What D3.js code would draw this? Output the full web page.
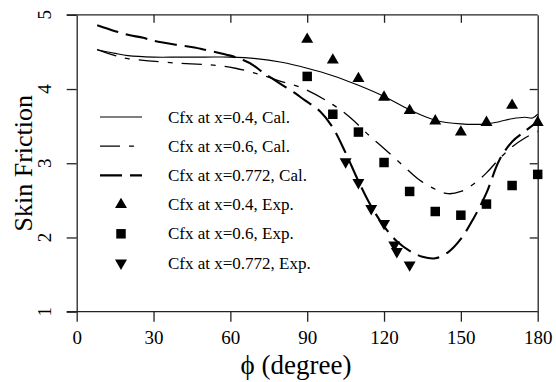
<!DOCTYPE html>
<html><head><meta charset="utf-8">
<script src="https://cdn.jsdelivr.net/npm/d3@7"></script>
<style>body{margin:0;background:#fff}svg{display:block}text{font-family:"Liberation Serif","Times New Roman",serif;fill:#000}</style>
</head><body><svg id="c" width="556" height="382"></svg>
<script>
// ---- data ----
const xTicks = [0, 30, 60, 90, 120, 150, 180];
const yTicks = [1, 2, 3, 4, 5];
const xLabel = "\u03D5 (degree)";
const yLabel = "Skin Friction";

const cal04Phi = [8,15,20,30,40,50,60,70,80,90,100,110,120,130,140,150,160,165,170,175,178,180];
const cal04Val = [4.53,4.48,4.45,4.43,4.43,4.43,4.43,4.41,4.36,4.28,4.18,4.05,3.90,3.72,3.58,3.53,3.53,3.56,3.60,3.62,3.61,3.66];

const cal06Phi = [8,15,20,28,39,50,57,62,68,73,80,89,100,107,114,120,128,134,140,145,150,155,160,165,170,175,180];
const cal06Val = [4.53,4.45,4.41,4.38,4.35,4.33,4.31,4.28,4.23,4.18,4.10,4.00,3.79,3.61,3.38,3.20,2.95,2.77,2.65,2.59,2.62,2.72,2.87,3.06,3.22,3.34,3.43];

const cal0772Phi = [8,15,20,26,30,40,46,50,60,65,69,72,76,80,85,89,95,100,105,110,115,120,125,130,135,140,145,150,155,160,165,170,175,180];
const cal0772Val = [4.86,4.78,4.73,4.69,4.65,4.59,4.56,4.53,4.45,4.39,4.32,4.24,4.15,4.06,3.95,3.85,3.70,3.48,3.14,2.76,2.42,2.15,1.95,1.82,1.74,1.72,1.80,1.98,2.26,2.60,3.04,3.29,3.43,3.56];

const exp04Phi = [90,100,110,120,130,140,150,160,170,180];
const exp04Val = [4.67,4.39,4.14,3.89,3.71,3.57,3.42,3.55,3.78,3.55];

const exp06Phi = [90,100,110,120,130,140,150,160,170,180];
const exp06Val = [4.17,3.66,3.42,3.01,2.62,2.35,2.30,2.45,2.70,2.85];

const exp0772Phi = [105,110,115,120,124,125,130];
const exp0772Val = [3.02,2.74,2.39,2.19,1.90,1.81,1.63];

const legendLabels = ["Cfx at x=0.4, Cal.","Cfx at x=0.6, Cal.","Cfx at x=0.772, Cal.","Cfx at x=0.4, Exp.","Cfx at x=0.6, Exp.","Cfx at x=0.772, Exp."];

// ---- layout ----
const FONT = "Liberation Serif, Times New Roman, serif";
const L = 76.7, R = 537.7, T = 14.8, B = 311.7;
const svg = d3.select("#c");
const x = d3.scaleLinear().domain([0,180]).range([L,R]);
const y = d3.scaleLinear().domain([1,5]).range([B,T]);
const axCol = "#222";

// axes
const gB = svg.append("g").attr("transform",`translate(0,${B})`)
  .call(d3.axisBottom(x).tickValues(xTicks).tickSize(10).tickPadding(9).tickSizeOuter(0));
const gL = svg.append("g").attr("transform",`translate(${L},0)`)
  .call(d3.axisLeft(y).tickValues(yTicks).tickSize(10).tickSizeOuter(0).tickFormat(""));
const gT = svg.append("g").attr("transform",`translate(0,${T})`)
  .call(d3.axisTop(x).tickValues(xTicks.slice(1,-1)).tickSize(-8).tickSizeOuter(0).tickFormat(""));
const gR = svg.append("g").attr("transform",`translate(${R},0)`)
  .call(d3.axisRight(y).tickValues(yTicks.slice(1,-1)).tickSize(-8).tickSizeOuter(0).tickFormat(""));
[gB,gL,gT,gR].forEach(g=>{
  g.attr("font-family",FONT);
  g.selectAll("path.domain").attr("stroke",axCol).attr("stroke-width",1.3);
  g.selectAll(".tick line").attr("stroke",axCol).attr("stroke-width",1.3);
});
gB.select("path.domain").attr("d",`M${L-10},0H${R}`);
gT.select("path.domain").attr("d",`M${L-10},0H${R}`);
gB.attr("font-size",19);
gB.selectAll(".tick text").attr("fill","#000");

// y tick labels rotated
svg.append("g").selectAll("text").data(yTicks).join("text")
  .attr("transform",d=>`translate(51,${y(d)}) rotate(-90)`)
  .attr("text-anchor","middle").attr("font-size",19).text(d=>d);

// axis titles
svg.append("text").attr("transform",`translate(32,${(T+B)/2}) rotate(-90)`)
  .attr("text-anchor","middle").attr("font-size",26).text(yLabel);
svg.append("text").attr("x",296).attr("y",374).attr("text-anchor","middle")
  .attr("font-size",27).text(xLabel);

// curves
const line = d3.line().x(d=>x(d[0])).y(d=>y(d[1])).curve(d3.curveCatmullRom.alpha(0.5));
const styles = [
  {dash:null, w:1.1},
  {dash:"20,9,5,9", w:1.3},
  {dash:"22,8", w:2.1}
];
const cal = [[cal04Phi,cal04Val],[cal06Phi,cal06Val],[cal0772Phi,cal0772Val]];
cal.forEach((c,i)=>{
  svg.append("path").datum(d3.zip(c[0],c[1])).attr("d",line)
    .attr("fill","none").attr("stroke","#000").attr("stroke-width",styles[i].w)
    .attr("stroke-dasharray",styles[i].dash);
});

// markers
const triUp = d3.symbol().type(d3.symbolTriangle).size(62);
const sq = d3.symbol().type(d3.symbolSquare).size(90);
const exps = [[exp04Phi,exp04Val,triUp,0],[exp06Phi,exp06Val,sq,0],[exp0772Phi,exp0772Val,triUp,180]];
exps.forEach(e=>{
  svg.append("g").selectAll("path").data(d3.zip(e[0],e[1])).join("path")
    .attr("d",e[2]()).attr("fill","#000")
    .attr("transform",d=>`translate(${x(d[0])},${y(d[1])}) rotate(${e[3]})`);
});

// legend
const lgX0 = 100, lgX1 = 142, lgTx = 168, lgY0 = 117, lgDy = 29.2;
legendLabels.forEach((t,i)=>{
  const yy = lgY0 + i*lgDy;
  if(i<3){
    svg.append("line").attr("x1",lgX0).attr("x2",lgX1).attr("y1",yy).attr("y2",yy)
      .attr("stroke","#000").attr("stroke-width",styles[i].w).attr("stroke-dasharray",styles[i].dash);
  } else {
    const e = exps[i-3];
    svg.append("path").attr("d",e[2]()).attr("fill","#000")
      .attr("transform",`translate(121,${yy}) rotate(${e[3]})`);
  }
  svg.append("text").attr("x",lgTx).attr("y",yy).attr("dy","0.33em").attr("font-size",17).text(t);
});
</script></body></html>
